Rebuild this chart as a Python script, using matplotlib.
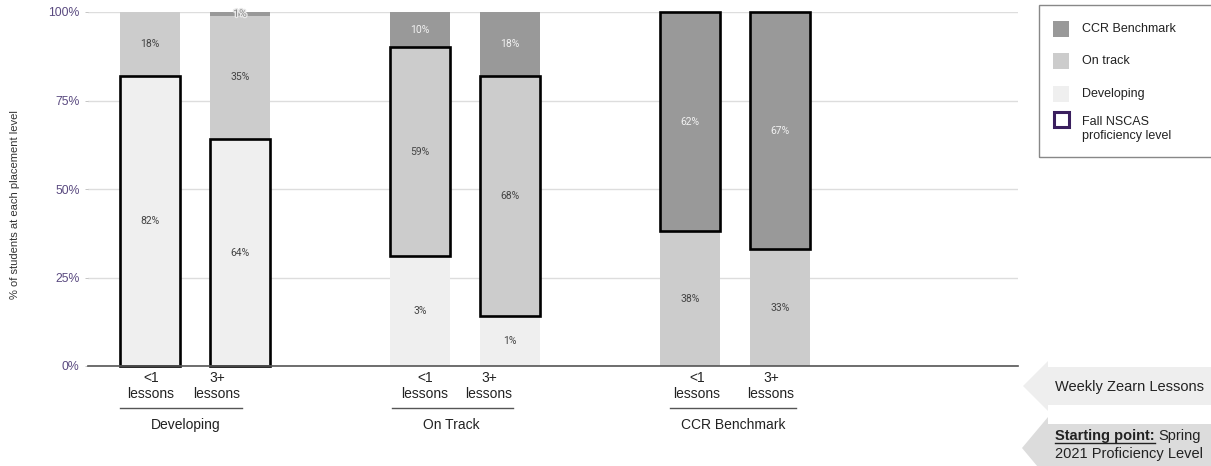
import matplotlib
matplotlib.use("Agg")
import matplotlib.pyplot as plt
from matplotlib.patches import Rectangle, Polygon
from matplotlib.lines import Line2D
import matplotlib.patheffects as pe

# ---- data -------------------------------------------------------------
groups = ["Developing", "On Track", "CCR Benchmark"]
lesson_labels = ["<1\nlessons", "3+\nlessons"]
positions = [0, 1, 3, 4, 6, 7]

developing = [82, 64, 31, 14, 0, 0]
on_track = [18, 35, 59, 68, 38, 33]
ccr = [0, 1, 10, 18, 62, 67]

developing_text = ["82%", "64%", "3%", "1%", "", ""]
on_track_text = ["18%", "35%", "59%", "68%", "38%", "33%"]
ccr_text = ["", "1%", "10%", "18%", "62%", "67%"]

# index of the segment holding the fall proficiency level (0 dev, 1 on track, 2 ccr)
fall_level = [0, 0, 1, 1, 2, 2]

y_ticks = [0, 25, 50, 75, 100]
y_tick_labels = ["0%", "25%", "50%", "75%", "100%"]

# ---- style ------------------------------------------------------------
C_DEV = "#efefef"
C_ON = "#cccccc"
C_CCR = "#999999"
PURPLE = "#5a4a80"
FONT = ["Liberation Sans", "DejaVu Sans"]
LABEL_FONT = ["Roboto", "DejaVu Sans"]

W, H = 1211, 466
fig = plt.figure(figsize=(W / 100, H / 100), dpi=100)
fig.patch.set_facecolor("white")


def fx(x):
    return x / W


def fy(y):
    return 1 - y / H


ax = fig.add_axes([fx(88), fy(366), fx(1018) - fx(88), fy(12) - fy(366)])
ax.set_xlim(-0.689, 9.644)
ax.set_ylim(0, 100)

bar_w = 0.667
colors = [C_DEV, C_ON, C_CCR]
series = [developing, on_track, ccr]
texts = [developing_text, on_track_text, ccr_text]
text_colors = ["#444444", "#444444", "#f2f2f2"]

for i, x in enumerate(positions):
    bottom = 0
    seg_ranges = []
    for s in range(3):
        v = series[s][i]
        ax.bar(x, v, bottom=bottom, width=bar_w, color=colors[s],
               edgecolor="none", zorder=2)
        seg_ranges.append((bottom, v))
        t = texts[s][i]
        if t:
            col = text_colors[s]
            effects = None
            if v < 3:
                col = "#8a8a8a"
                effects = [pe.withStroke(linewidth=2, foreground="#e8e8e8")]
            ax.text(x, bottom + v / 2, t, ha="center", va="center",
                    fontsize=7.5, color=col, family=LABEL_FONT, zorder=4,
                    path_effects=effects)
        bottom += v
    b0, h0 = seg_ranges[fall_level[i]]
    ax.add_patch(Rectangle((x - bar_w / 2, b0), bar_w, h0, fill=False,
                           edgecolor="black", linewidth=1.9, zorder=3,
                           clip_on=False))

# axes styling
ax.set_yticks(y_ticks)
ax.set_yticklabels(y_tick_labels, fontsize=8.8, color=PURPLE, family=FONT)
ax.tick_params(axis="y", length=2, width=0.6, color="#bbbbbb", pad=4)
ax.set_xticks([])
ax.grid(axis="y", color="#dddddd", linewidth=1, zorder=0)
ax.set_axisbelow(True)
for sp in ["top", "right", "left"]:
    ax.spines[sp].set_visible(False)
ax.spines["bottom"].set_color("#555555")
ax.spines["bottom"].set_linewidth(1.2)
ax.spines["bottom"].set_zorder(5)

fig.text(fx(15), fy(205), "% of students at each placement level",
         rotation=90, ha="center", va="center", fontsize=8,
         color="#333333", family=FONT)

# lesson labels and group labels
lesson_x = [151, 217, 425, 489, 697, 771]
for i, lx in enumerate(lesson_x):
    fig.text(fx(lx), fy(386), lesson_labels[i % 2], ha="center", va="center",
             fontsize=10, color="#222222", family=FONT, linespacing=1.2)

group_line = [(120, 242), (392, 513), (670, 796)]
group_x = [186, 451, 733]
for g, (x0, x1), gx in zip(groups, group_line, group_x):
    fig.add_artist(Line2D([fx(x0), fx(x1)], [fy(408), fy(408)],
                          color="#555555", linewidth=1.0))
    fig.text(fx(gx), fy(425), g, ha="center", va="center", fontsize=10,
             color="#222222", family=FONT)

# legend
fig.add_artist(Rectangle((fx(1039), fy(157)), fx(1215) - fx(1039),
                         fy(5) - fy(157), fill=False, edgecolor="#888888",
                         linewidth=1.0))
legend_items = [("CCR Benchmark", C_CCR, 29), ("On track", C_ON, 61),
                ("Developing", C_DEV, 94)]
for name, col, yy in legend_items:
    fig.add_artist(Rectangle((fx(1053), fy(yy + 8)), fx(16), 16 / H,
                             facecolor=col, edgecolor="none"))
    fig.text(fx(1082), fy(yy), name, ha="left", va="center", fontsize=9,
             color="#222222", family=FONT)
fig.add_artist(Rectangle((fx(1054), fy(127)), fx(15), 15 / H,
                         facecolor="white", edgecolor="#3a1f5e",
                         linewidth=2.2))
fig.text(fx(1082), fy(129), "Fall NSCAS\nproficiency level", ha="left",
         va="center", fontsize=9, color="#222222", family=FONT,
         linespacing=1.15)

# direction arrows at the bottom right
def left_arrow(tip_x, y_mid, body_x, half_body, half_head, color):
    pts = [(tip_x, y_mid), (body_x, y_mid - half_head),
           (body_x, y_mid - half_body), (W + 5, y_mid - half_body),
           (W + 5, y_mid + half_body), (body_x, y_mid + half_body),
           (body_x, y_mid + half_head)]
    fig.add_artist(Polygon([(fx(a), fy(b)) for a, b in pts], closed=True,
                           facecolor=color, edgecolor="none"))


left_arrow(1023, 386, 1048, 19, 25, "#eeeeee")
left_arrow(1022, 448, 1048, 24, 31, "#dcdcdc")

fig.text(fx(1055), fy(387), "Weekly Zearn Lessons", ha="left", va="center",
         fontsize=10.5, color="#222222", family=FONT)

t_bold = fig.text(fx(1055), fy(436), "Starting point:", ha="left",
                  va="center", fontsize=10.5, color="#222222", family=FONT,
                  fontweight="bold")
renderer = fig.canvas.get_renderer()
bb = t_bold.get_window_extent(renderer=renderer)
fig.text(bb.x1 / W + fx(4), fy(436), "Spring",
         ha="left", va="center", fontsize=10.5, color="#222222", family=FONT)
fig.add_artist(Line2D([bb.x0 / W, bb.x1 / W], [fy(443), fy(443)],
                      color="#222222", linewidth=1.0))
fig.text(fx(1055), fy(454), "2021 Proficiency Level", ha="left",
         va="center", fontsize=10.5, color="#222222", family=FONT)

fig.savefig("out.png", dpi=100)
